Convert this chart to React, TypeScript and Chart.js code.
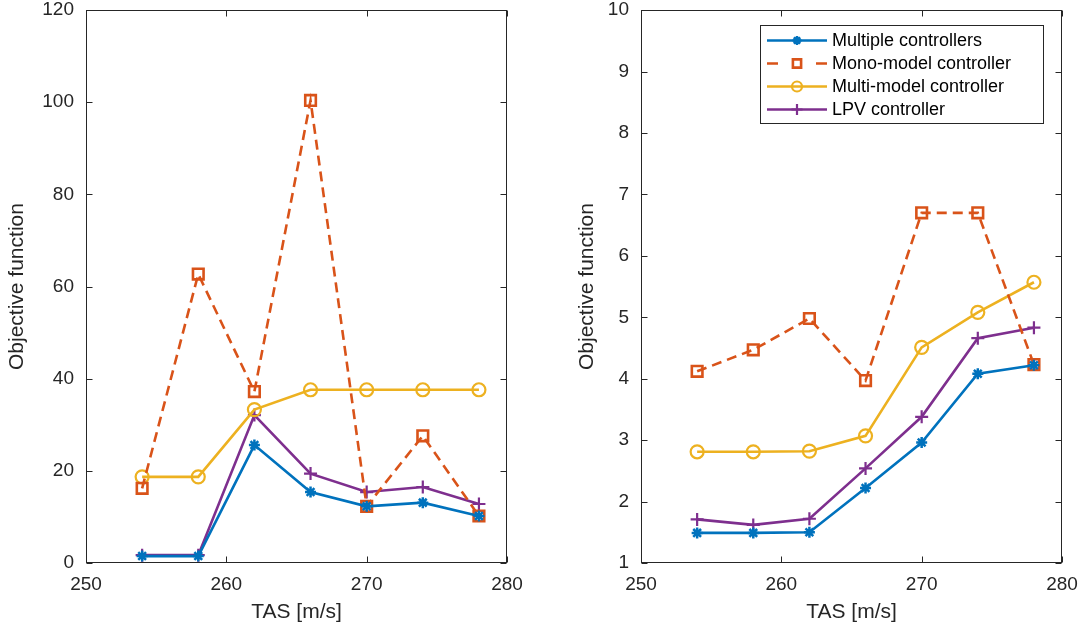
import React, { useEffect, useRef } from 'react';
import { Chart, registerables } from 'chart.js';

Chart.register(...registerables);

// True air speed operating points [m/s]
const tas = [254, 258, 262, 266, 270, 274, 278];

// Left panel: objective function values
const multipleLeft = [1.5, 1.5, 25.6, 15.4, 12.3, 13.1, 10.2];
const monoLeft = [16.2, 62.7, 37.2, 100.4, 12.3, 27.6, 10.2];
const multiModelLeft = [18.7, 18.7, 33.3, 37.6, 37.6, 37.6, 37.6];
const lpvLeft = [1.7, 1.7, 32.1, 19.4, 15.4, 16.5, 12.8];

// Right panel: objective function values
const multipleRight = [1.49, 1.49, 1.5, 2.22, 2.96, 4.08, 4.22];
const monoRight = [4.12, 4.47, 4.98, 3.97, 6.7, 6.7, 4.23];
const multiModelRight = [2.81, 2.81, 2.82, 3.07, 4.51, 5.08, 5.57];
const lpvRight = [1.71, 1.62, 1.72, 2.54, 3.38, 4.66, 4.83];

const seriesLabels = [
  'Multiple controllers',
  'Mono-model controller',
  'Multi-model controller',
  'LPV controller',
];

// Axis ranges and tick steps
const tasRange = [250, 280];
const tasStep = 10;
const leftYRange = [0, 120];
const leftYStep = 20;
const rightYRange = [1, 10];
const rightYStep = 1;

const xTitle = 'TAS [m/s]';
const yTitle = 'Objective function';

const FONT = "'Liberation Sans', Arial, Helvetica, sans-serif";
const AXIS = '#262626';

type Style = {
  color: string;
  pointStyle: string;
  radius: number;
  pointWidth: number;
  legendRadius: number;
  dash: number[];
};

const styles: Style[] = [
  { color: '#0072BD', pointStyle: 'star', radius: 5.5, pointWidth: 2.5, legendRadius: 4.5, dash: [] },
  { color: '#D95319', pointStyle: 'rect', radius: 7.5, pointWidth: 2.6, legendRadius: 5.8, dash: [10, 6] },
  { color: '#EDB120', pointStyle: 'circle', radius: 6.5, pointWidth: 2.2, legendRadius: 5, dash: [] },
  { color: '#7E2F8E', pointStyle: 'cross', radius: 6.5, pointWidth: 2.2, legendRadius: 5.5, dash: [] },
];

function drawMarker(ctx: CanvasRenderingContext2D, style: string, x: number, y: number, r: number) {
  ctx.beginPath();
  if (style === 'circle') {
    ctx.arc(x, y, r, 0, Math.PI * 2);
  } else if (style === 'rect') {
    const s = r * Math.SQRT1_2;
    ctx.rect(x - s, y - s, 2 * s, 2 * s);
  } else if (style === 'cross') {
    ctx.moveTo(x - r, y);
    ctx.lineTo(x + r, y);
    ctx.moveTo(x, y - r);
    ctx.lineTo(x, y + r);
  } else if (style === 'star') {
    for (let k = 0; k < 4; k++) {
      const a = (k * Math.PI) / 4;
      ctx.moveTo(x - Math.cos(a) * r, y - Math.sin(a) * r);
      ctx.lineTo(x + Math.cos(a) * r, y + Math.sin(a) * r);
    }
  }
  ctx.stroke();
}

// Box around the plot area with inward tick marks on all four sides
const framePlugin = {
  id: 'frameBox',
  beforeDatasetsDraw(chart: any) {
    const { ctx, chartArea: a, scales } = chart;
    const L = Math.round(a.left) + 0.5;
    const R = Math.round(a.right) - 0.5;
    const T = Math.round(a.top) + 0.5;
    const B = Math.round(a.bottom) - 0.5;
    const tl = 6;
    ctx.save();
    ctx.strokeStyle = AXIS;
    ctx.lineWidth = 1;
    ctx.setLineDash([]);
    ctx.strokeRect(L, T, R - L, B - T);
    ctx.beginPath();
    scales.x.ticks.forEach((t: any) => {
      const px = Math.round(scales.x.getPixelForValue(t.value)) + 0.5;
      ctx.moveTo(px, B);
      ctx.lineTo(px, B - tl);
      ctx.moveTo(px, T);
      ctx.lineTo(px, T + tl);
    });
    scales.y.ticks.forEach((t: any) => {
      const py = Math.round(scales.y.getPixelForValue(t.value)) + 0.5;
      ctx.moveTo(L, py);
      ctx.lineTo(L + tl, py);
      ctx.moveTo(R, py);
      ctx.lineTo(R - tl, py);
    });
    ctx.stroke();
    ctx.restore();
  },
};

// Legend box drawn inside the plot area
const legendPlugin = {
  id: 'insetLegend',
  afterDraw(chart: any) {
    const opts = chart.options.plugins.insetLegend;
    if (!opts || !opts.show) return;
    const { ctx } = chart;
    const bx = 219.5;
    const by = 25.5;
    const bw = 283;
    const bh = 98;
    ctx.save();
    ctx.fillStyle = '#ffffff';
    ctx.fillRect(bx, by, bw, bh);
    ctx.strokeStyle = AXIS;
    ctx.lineWidth = 1;
    ctx.strokeRect(bx, by, bw, bh);
    const rows = [40.5, 63.5, 86.5, 109.5];
    const x0 = 226;
    const x1 = 286;
    const xm = (x0 + x1) / 2;
    seriesLabels.forEach((label, i) => {
      const st = styles[i];
      const y = rows[i];
      ctx.strokeStyle = st.color;
      ctx.lineWidth = 2.5;
      ctx.setLineDash(st.dash.length ? [11, 38] : []);
      ctx.beginPath();
      ctx.moveTo(x0, y);
      ctx.lineTo(x1, y);
      ctx.stroke();
      ctx.setLineDash([]);
      ctx.lineWidth = st.pointWidth;
      drawMarker(ctx, st.pointStyle, xm, y, st.legendRadius);
      ctx.fillStyle = '#000000';
      ctx.font = `18px ${FONT}`;
      ctx.textBaseline = 'middle';
      ctx.textAlign = 'left';
      ctx.fillText(label, 291, y + 1);
    });
    ctx.restore();
  },
};

function makeDatasets(values: number[][]) {
  return values.map((vals, i) => {
    const st = styles[i];
    return {
      label: seriesLabels[i],
      data: tas.map((x, k) => ({ x, y: vals[k] })),
      borderColor: st.color,
      backgroundColor: 'rgba(0,0,0,0)',
      borderWidth: 2.6,
      borderDash: st.dash,
      pointStyle: st.pointStyle,
      pointRadius: st.radius,
      pointBorderWidth: st.pointWidth,
      pointBorderColor: st.color,
      pointBackgroundColor: 'rgba(0,0,0,0)',
      tension: 0,
      fill: false,
    };
  });
}

type PanelProps = {
  left: number;
  values: number[][];
  yRange: number[];
  yStep: number;
  yAxisWidth: number;
  rightPad: number;
  yTitlePad: number;
  legend: boolean;
};

function Panel(props: PanelProps) {
  const ref = useRef<HTMLCanvasElement | null>(null);

  useEffect(() => {
    if (!ref.current) return;
    const chart = new Chart(ref.current, {
      type: 'line',
      data: { datasets: makeDatasets(props.values) as any },
      options: {
        animation: false,
        responsive: true,
        maintainAspectRatio: false,
        devicePixelRatio: 1,
        events: [],
        layout: { padding: { left: 0, top: 8, right: props.rightPad, bottom: 0 } },
        plugins: {
          legend: { display: false },
          tooltip: { enabled: false },
          insetLegend: { show: props.legend },
        } as any,
        scales: {
          x: {
            type: 'linear',
            min: tasRange[0],
            max: tasRange[1],
            grid: { display: false, drawTicks: false },
            border: { display: false },
            ticks: {
              stepSize: tasStep,
              autoSkip: false,
              maxRotation: 0,
              padding: 10,
              color: AXIS,
              font: { family: FONT, size: 19 },
            },
            title: {
              display: true,
              text: xTitle,
              color: AXIS,
              font: { family: FONT, size: 21 },
              padding: { top: 0, bottom: 4 },
            },
            afterFit(s: any) {
              s.height = 66;
              s.paddingLeft = 0;
              s.paddingRight = 0;
            },
          },
          y: {
            type: 'linear',
            min: props.yRange[0],
            max: props.yRange[1],
            grid: { display: false, drawTicks: false },
            border: { display: false },
            ticks: {
              stepSize: props.yStep,
              padding: 12,
              color: AXIS,
              font: { family: FONT, size: 19 },
            },
            title: {
              display: true,
              text: yTitle,
              color: AXIS,
              font: { family: FONT, size: 21 },
              padding: { top: props.yTitlePad, bottom: 0 },
            },
            afterFit(s: any) {
              s.width = props.yAxisWidth;
              s.paddingTop = 0;
              s.paddingBottom = 0;
            },
          },
        },
      },
      plugins: [framePlugin, legendPlugin],
    });
    return () => chart.destroy();
  }, []);

  return (
    <div style={{ position: 'absolute', left: props.left, top: 0, width: 541, height: 629 }}>
      <canvas ref={ref} />
    </div>
  );
}

export default function App() {
  return (
    <div style={{ position: 'absolute', left: 0, top: 0, width: 1082, height: 629, background: '#ffffff' }}>
      <Panel
        left={0}
        values={[multipleLeft, monoLeft, multiModelLeft, lpvLeft]}
        yRange={leftYRange}
        yStep={leftYStep}
        yAxisWidth={86}
        rightPad={34}
        yTitlePad={5}
        legend={false}
      />
      <Panel
        left={541}
        values={[multipleRight, monoRight, multiModelRight, lpvRight]}
        yRange={rightYRange}
        yStep={rightYStep}
        yAxisWidth={100}
        rightPad={20}
        yTitlePad={34}
        legend={true}
      />
    </div>
  );
}
